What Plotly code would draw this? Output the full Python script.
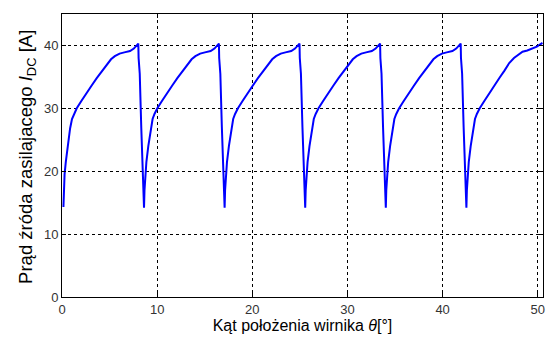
import plotly.graph_objects as go

# Rotor angle [deg]
theta = [
    0.15, 0.20, 0.27, 0.40, 0.60, 0.85, 1.05, 1.25, 1.55, 2.05, 2.55, 3.10, 3.65, 4.15, 4.65, 5.15, 5.55, 6.05, 6.55, 7.15, 7.55, 8.02, 8.05, 8.17, 8.33, 8.45, 8.52,
    8.62, 8.67, 8.74, 8.87, 9.07, 9.32, 9.52, 9.72, 10.02, 10.52, 11.02, 11.57, 12.12, 12.62, 13.12, 13.62, 14.02, 14.52, 15.02, 15.62, 16.02, 16.49, 16.52, 16.64, 16.80, 16.92, 16.99,
    17.09, 17.14, 17.21, 17.34, 17.54, 17.79, 17.99, 18.19, 18.49, 18.99, 19.49, 20.04, 20.59, 21.09, 21.59, 22.09, 22.49, 22.99, 23.49, 24.09, 24.49, 24.96, 24.99, 25.11, 25.27, 25.39, 25.46,
    25.56, 25.61, 25.68, 25.81, 26.01, 26.26, 26.46, 26.66, 26.96, 27.46, 27.96, 28.51, 29.06, 29.56, 30.06, 30.56, 30.96, 31.46, 31.96, 32.56, 32.96, 33.43, 33.46, 33.58, 33.74, 33.86, 33.93,
    34.03, 34.08, 34.15, 34.28, 34.48, 34.73, 34.93, 35.13, 35.43, 35.93, 36.43, 36.98, 37.53, 38.03, 38.53, 39.03, 39.43, 39.93, 40.43, 41.03, 41.43, 41.90, 41.93, 42.05, 42.21, 42.33, 42.40,
    42.50, 42.55, 42.62, 42.75, 42.95, 43.20, 43.40, 43.60, 43.90, 44.40, 44.90, 45.45, 46.00, 46.50, 47.00, 47.50, 47.90, 48.40, 48.90, 49.50, 49.90, 50.50,
]

# DC source current [A]
i_dc = [
    14.3, 17.0, 19.5, 21.5, 24.0, 26.8, 28.3, 29.1, 30.0, 31.2, 32.4, 33.6, 34.8, 35.8, 36.9, 37.8, 38.3, 38.7, 38.9, 39.1, 39.5, 40.3, 38.0, 35.5, 27.0, 21.0, 18.6,
    14.2, 17.0, 19.5, 21.5, 24.0, 26.8, 28.3, 29.1, 30.0, 31.2, 32.4, 33.6, 34.8, 35.8, 36.9, 37.8, 38.3, 38.7, 38.9, 39.1, 39.5, 40.3, 38.0, 35.5, 27.0, 21.0, 18.6,
    14.2, 17.0, 19.5, 21.5, 24.0, 26.8, 28.3, 29.1, 30.0, 31.2, 32.4, 33.6, 34.8, 35.8, 36.9, 37.8, 38.3, 38.7, 38.9, 39.1, 39.5, 40.3, 38.0, 35.5, 27.0, 21.0, 18.6,
    14.2, 17.0, 19.5, 21.5, 24.0, 26.8, 28.3, 29.1, 30.0, 31.2, 32.4, 33.6, 34.8, 35.8, 36.9, 37.8, 38.3, 38.7, 38.9, 39.1, 39.5, 40.3, 38.0, 35.5, 27.0, 21.0, 18.6,
    14.2, 17.0, 19.5, 21.5, 24.0, 26.8, 28.3, 29.1, 30.0, 31.2, 32.4, 33.6, 34.8, 35.8, 36.9, 37.8, 38.3, 38.7, 38.9, 39.1, 39.5, 40.3, 38.0, 35.5, 27.0, 21.0, 18.6,
    14.2, 17.0, 19.5, 21.5, 24.0, 26.8, 28.3, 29.1, 30.0, 31.2, 32.4, 33.6, 34.9, 36.0, 37.2, 38.0, 38.5, 39.0, 39.2, 39.5, 39.8, 40.4,
]

x_ticks = [0, 10, 20, 30, 40, 50]
y_ticks = [0, 10, 20, 30, 40]

FONT = "Liberation Sans, Arial, sans-serif"

fig = go.Figure()
fig.add_trace(go.Scatter(
    x=theta, y=i_dc, mode="lines",
    line=dict(color="#0000FF", width=2),
    showlegend=False, hoverinfo="skip",
))

axis_common = dict(
    showline=True, linecolor="#000000", linewidth=1, mirror="ticks",
    ticks="inside", ticklen=4, tickcolor="#000000",
    showgrid=True, gridcolor="#000000", gridwidth=1, griddash="3px,3px",
    zeroline=False,
    tickfont=dict(family=FONT, size=13, color="#333333"),
)

fig.update_xaxes(
    range=[0, 50.55], tickvals=x_ticks, ticktext=[str(v) for v in x_ticks],
    title=dict(text="Kąt położenia wirnika <i>θ</i>[°]",
               font=dict(family=FONT, size=16, color="#000000"), standoff=3),
    **axis_common,
)
fig.update_yaxes(
    range=[0, 45], tickvals=y_ticks, ticktext=[str(v) for v in y_ticks],
    **axis_common,
)

fig.add_annotation(
    text="Prąd źróda zasilajacego <i>I</i><sub>DC</sub> [A]",
    xref="paper", yref="paper", x=-0.0728, y=0.495,
    xanchor="center", yanchor="middle", textangle=-90, showarrow=False,
    font=dict(family=FONT, size=18.5, color="#000000"),
)

fig.update_layout(
    width=548, height=343,
    margin=dict(l=62, r=5, t=14, b=46, autoexpand=False),
    paper_bgcolor="#ffffff", plot_bgcolor="#ffffff",
)

fig.write_html("out.html")
